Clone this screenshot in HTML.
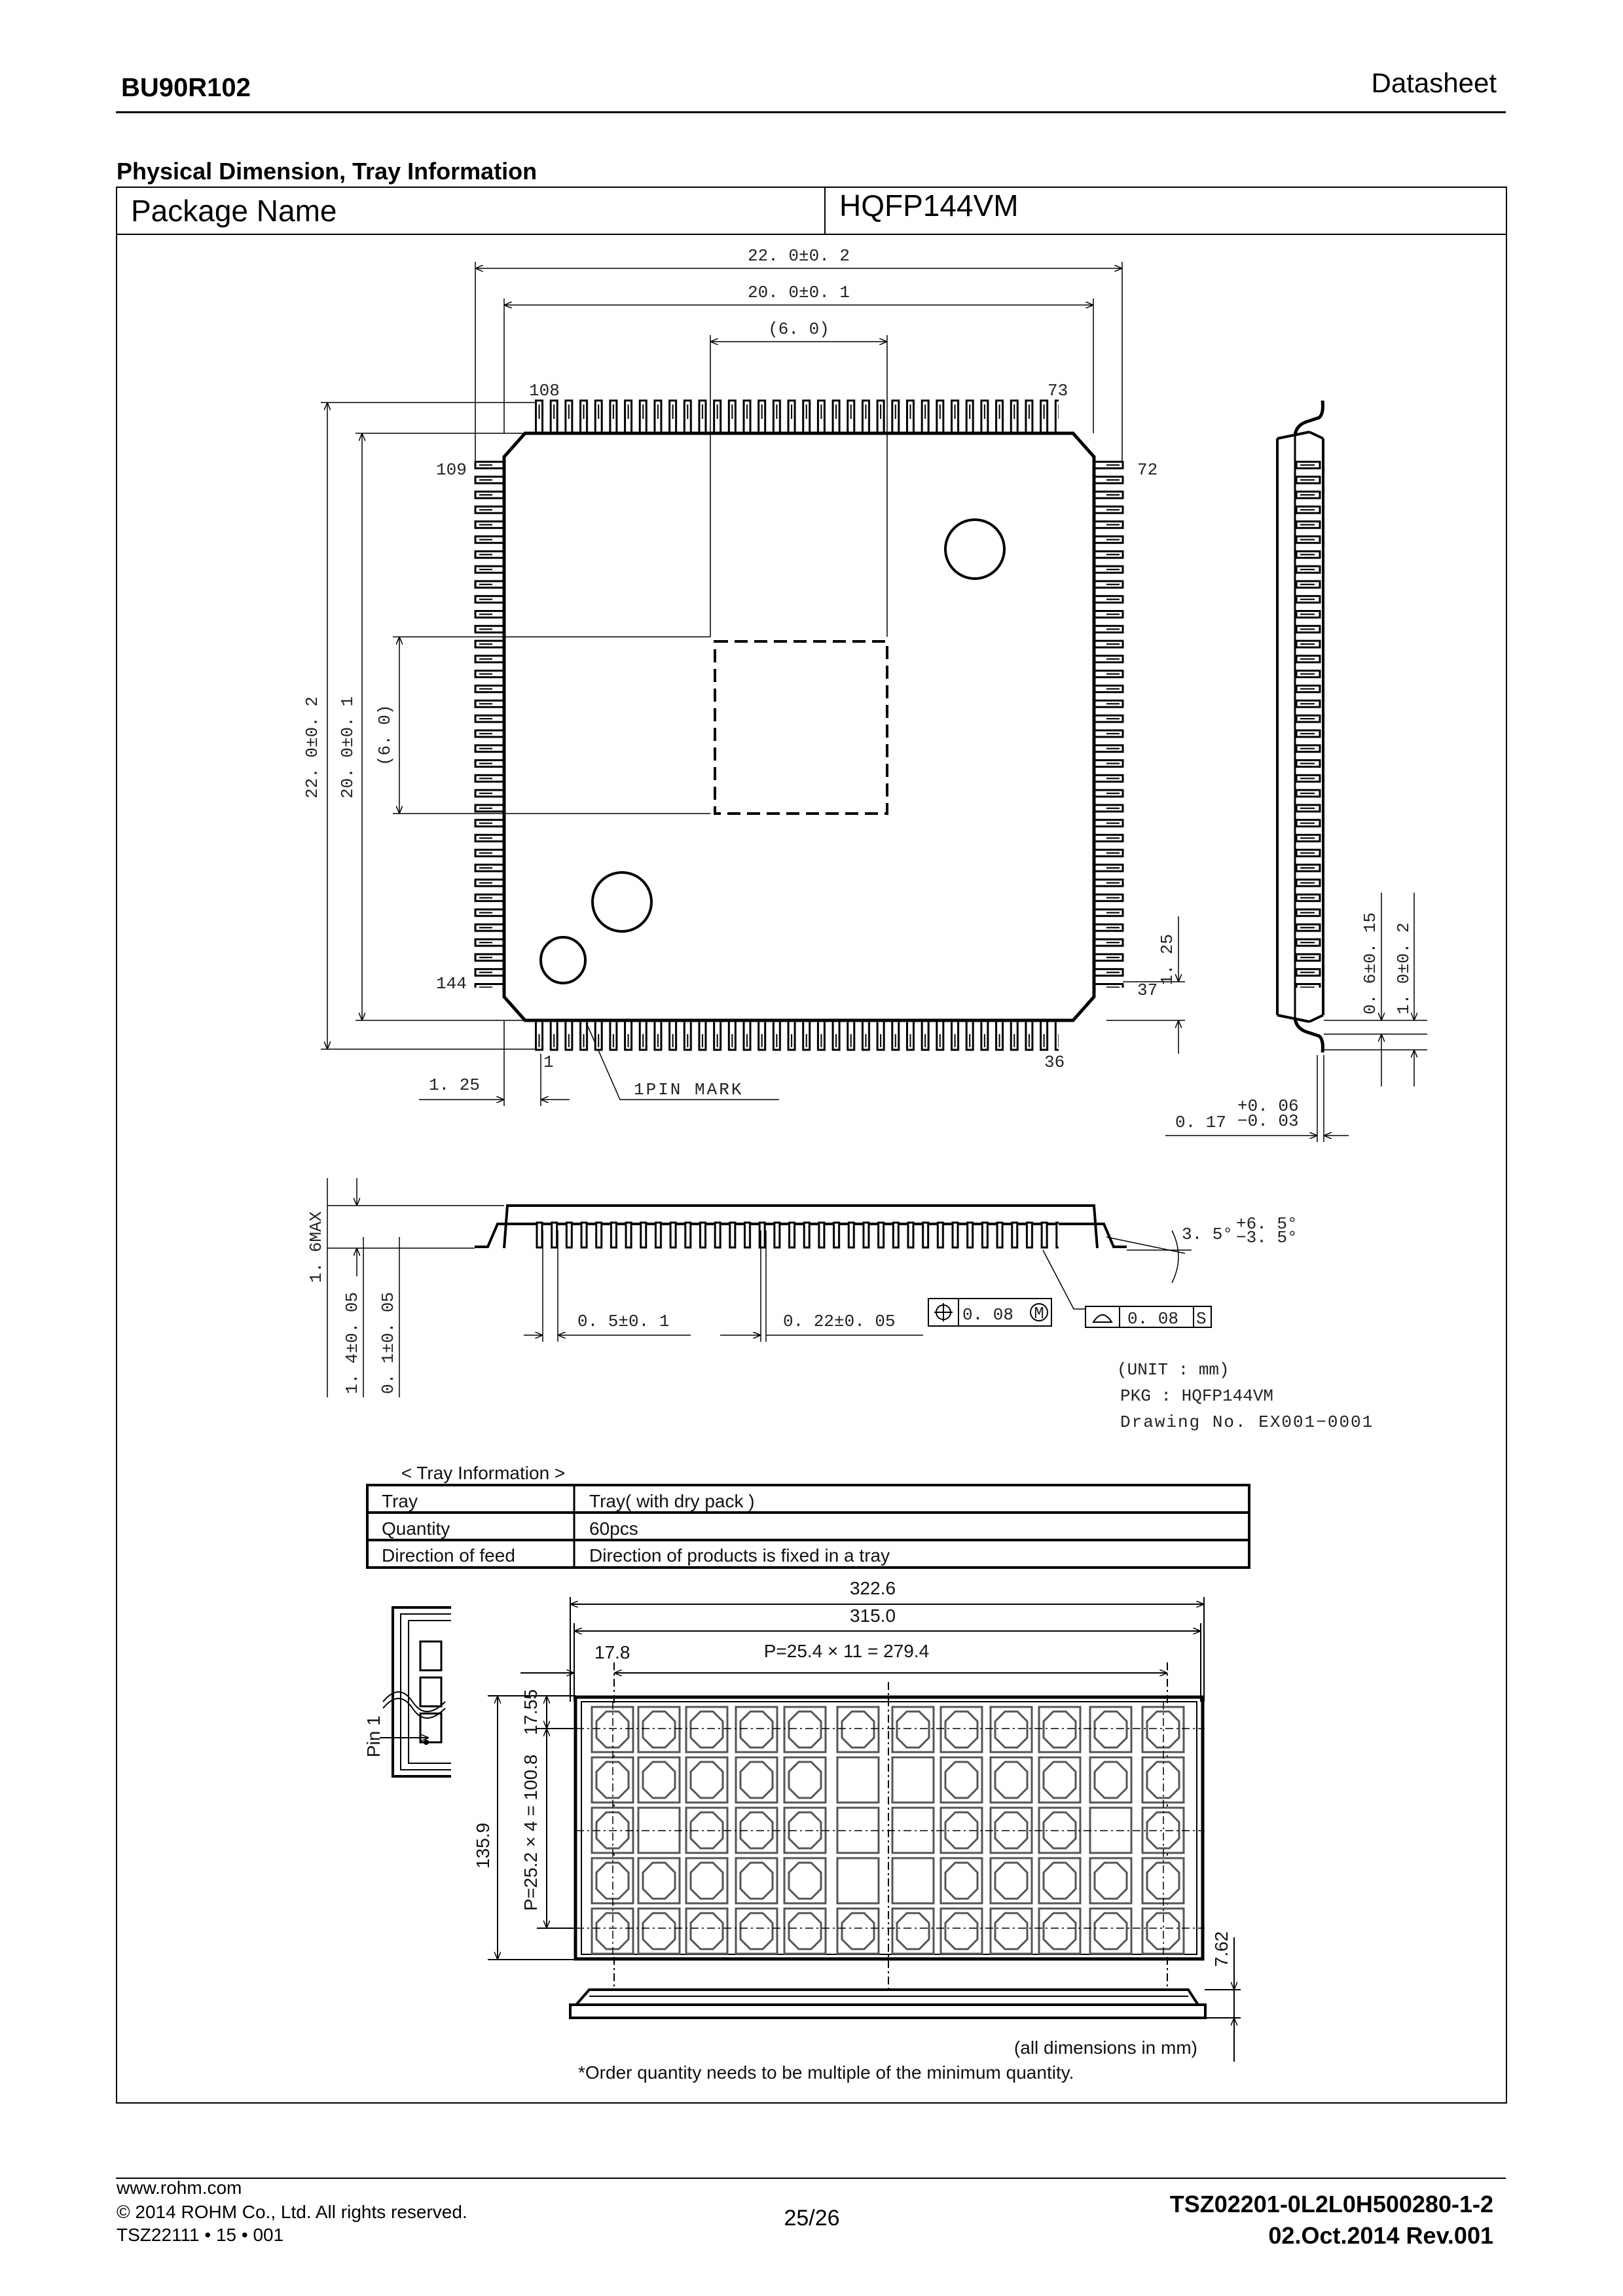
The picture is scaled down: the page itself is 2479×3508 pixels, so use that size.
<!DOCTYPE html>
<html><head><meta charset="utf-8"><style>
html,body{margin:0;padding:0;background:#fff}
svg{display:block}
.h{font-family:"Liberation Sans",sans-serif}
.m{font-family:"Liberation Mono","DejaVu Sans Mono",monospace;font-size:26px;fill:#222}
.t{font-family:"Liberation Sans",sans-serif;font-size:28px;fill:#111}
</style></head><body>
<svg width="2479" height="3508" viewBox="0 0 2479 3508" xmlns="http://www.w3.org/2000/svg">
<defs>
<pattern id="ptop" x="817" y="0" width="22.68" height="3508" patternUnits="userSpaceOnUse">
<rect x="1.5" y="612" width="10" height="50" fill="#fff" stroke="#000" stroke-width="3"/>
<line x1="6.5" y1="618" x2="6.5" y2="640" stroke="#000" stroke-width="2"/>
</pattern>
<pattern id="pbot" x="817" y="0" width="22.68" height="3508" patternUnits="userSpaceOnUse">
<rect x="1.5" y="1559" width="10" height="45" fill="#fff" stroke="#000" stroke-width="3"/>
<line x1="6.5" y1="1580" x2="6.5" y2="1600" stroke="#000" stroke-width="2"/>
</pattern>
<pattern id="pside" x="0" y="704" width="2479" height="22.8" patternUnits="userSpaceOnUse">
<rect x="726" y="1.5" width="44" height="10" fill="#fff" stroke="#000" stroke-width="3"/>
<line x1="732" y1="6.5" x2="752" y2="6.5" stroke="#000" stroke-width="2"/>
<rect x="1671" y="1.5" width="44" height="10" fill="#fff" stroke="#000" stroke-width="3"/>
<line x1="1690" y1="6.5" x2="1710" y2="6.5" stroke="#000" stroke-width="2"/>
<rect x="1980" y="1.5" width="36" height="10" fill="#fff" stroke="#000" stroke-width="3"/>
<line x1="1986" y1="6.5" x2="2008" y2="6.5" stroke="#000" stroke-width="2"/>
</pattern>
<pattern id="pprof" x="817" y="0" width="22.68" height="3508" patternUnits="userSpaceOnUse">
<rect x="3" y="1868" width="8" height="38" fill="#fff" stroke="#000" stroke-width="3"/>
</pattern>
<g id="cell"><rect x="0" y="0" width="63" height="69" fill="#fff" stroke="#555" stroke-width="3"/></g>
<g id="oct"><rect x="0" y="0" width="63" height="69" fill="#fff" stroke="#555" stroke-width="3"/>
<polygon points="22,7 41,7 56,22 56,47 41,62 22,62 7,47 7,22" fill="none" stroke="#555" stroke-width="3"/></g>
<marker id="ar" markerWidth="12" markerHeight="10" refX="12" refY="5" orient="auto-start-reverse" markerUnits="userSpaceOnUse"><path d="M0,0 L12,5 L0,10" fill="none" stroke="#000" stroke-width="1.5"/></marker>
</defs>

<!-- header -->
<text x="185" y="147" class="h" font-size="40" font-weight="bold">BU90R102</text>
<text x="2286" y="141" class="h" font-size="42" text-anchor="end">Datasheet</text>
<rect x="177" y="170" width="2123" height="3" fill="#000"/>
<text x="178" y="274" class="h" font-size="36" font-weight="bold">Physical Dimension, Tray Information</text>

<!-- frame -->
<rect x="178" y="286" width="2123" height="2927" fill="none" stroke="#000" stroke-width="2"/>
<line x1="178" y1="358" x2="2301" y2="358" stroke="#000" stroke-width="2"/>
<line x1="1260" y1="286" x2="1260" y2="358" stroke="#000" stroke-width="2"/>
<text x="200" y="338" class="h" font-size="46">Package Name</text>
<text x="1282" y="330" class="h" font-size="46">HQFP144VM</text>

<!-- top view dims -->
<g stroke="#000" stroke-width="1.5" fill="none">
<line x1="726" y1="400" x2="726" y2="704"/><line x1="1714" y1="400" x2="1714" y2="704"/>
<line x1="726" y1="410" x2="1714" y2="410" marker-start="url(#ar)" marker-end="url(#ar)"/>
<line x1="770" y1="456" x2="770" y2="662"/><line x1="1670" y1="456" x2="1670" y2="662"/>
<line x1="770" y1="466" x2="1670" y2="466" marker-start="url(#ar)" marker-end="url(#ar)"/>
<line x1="1085" y1="512" x2="1085" y2="973"/><line x1="1355" y1="512" x2="1355" y2="973"/>
<line x1="1085" y1="522" x2="1355" y2="522" marker-start="url(#ar)" marker-end="url(#ar)"/>
<line x1="490" y1="615" x2="822" y2="615"/><line x1="490" y1="1603" x2="822" y2="1603"/>
<line x1="500" y1="615" x2="500" y2="1603" marker-start="url(#ar)" marker-end="url(#ar)"/>
<line x1="543" y1="662" x2="800" y2="662"/><line x1="543" y1="1559" x2="800" y2="1559"/>
<line x1="553" y1="662" x2="553" y2="1559" marker-start="url(#ar)" marker-end="url(#ar)"/>
<line x1="600" y1="973" x2="1085" y2="973"/><line x1="600" y1="1243" x2="1085" y2="1243"/>
<line x1="610" y1="973" x2="610" y2="1243" marker-start="url(#ar)" marker-end="url(#ar)"/>
<line x1="770" y1="1560" x2="770" y2="1690"/><line x1="826" y1="1610" x2="826" y2="1690"/>
<line x1="640" y1="1680" x2="770" y2="1680" marker-end="url(#ar)"/>
<line x1="870" y1="1680" x2="826" y2="1680" marker-end="url(#ar)"/>
<polyline points="868,1500 947,1680 1190,1680"/>
<line x1="1715" y1="1500" x2="1810" y2="1500"/><line x1="1690" y1="1559" x2="1810" y2="1559"/>
<line x1="1800" y1="1400" x2="1800" y2="1500" marker-end="url(#ar)"/>
<line x1="1800" y1="1610" x2="1800" y2="1559" marker-end="url(#ar)"/>
</g>
<text x="1220" y="398" class="m" text-anchor="middle">22. 0±0. 2</text>
<text x="1220" y="454" class="m" text-anchor="middle">20. 0±0. 1</text>
<text x="1220" y="510" class="m" text-anchor="middle">(6. 0)</text>
<text class="m" transform="translate(484,1220) rotate(-90)">22. 0±0. 2</text>
<text class="m" transform="translate(538,1220) rotate(-90)">20. 0±0. 1</text>
<text class="m" transform="translate(595,1170) rotate(-90)">(6. 0)</text>
<text class="m" transform="translate(1790,1505) rotate(-90)">1. 25</text>
<text x="808" y="604" class="m" font-size="20">108</text>
<text x="1600" y="604" class="m" font-size="20">73</text>
<text x="666" y="725" class="m" font-size="20">109</text>
<text x="1737" y="725" class="m" font-size="20">72</text>
<text x="666" y="1510" class="m" font-size="20">144</text>
<text x="1737" y="1520" class="m" font-size="20">37</text>
<text x="830" y="1630" class="m" font-size="20">1</text>
<text x="1595" y="1630" class="m" font-size="20">36</text>
<text x="655" y="1665" class="m">1. 25</text>
<text x="968" y="1672" class="m" font-family="Liberation Serif" font-size="30" letter-spacing="3">1PIN MARK</text>

<!-- pins and body -->
<rect x="817" y="600" width="800" height="70" fill="url(#ptop)"/>
<rect x="817" y="1550" width="800" height="60" fill="url(#pbot)"/>
<rect x="720" y="704" width="1310" height="805" fill="url(#pside)"/>
<polygon points="802,662 1639,662 1671,698 1671,1523 1639,1559 802,1559 770,1523 770,698" fill="#fff" stroke="#000" stroke-width="5"/>
<line x1="1085" y1="662" x2="1085" y2="973" stroke="#000" stroke-width="1.5"/>
<line x1="1355" y1="662" x2="1355" y2="973" stroke="#000" stroke-width="1.5"/>
<line x1="770" y1="973" x2="1085" y2="973" stroke="#000" stroke-width="1.5"/>
<line x1="770" y1="1243" x2="1085" y2="1243" stroke="#000" stroke-width="1.5"/>
<rect x="1092" y="980" width="263" height="263" fill="none" stroke="#000" stroke-width="4" stroke-dasharray="20,10"/>
<ellipse cx="1489" cy="839" rx="45" ry="45" fill="none" stroke="#000" stroke-width="4"/>
<ellipse cx="950" cy="1378" rx="45" ry="45" fill="none" stroke="#000" stroke-width="4"/>
<ellipse cx="860" cy="1467" rx="34" ry="35" fill="none" stroke="#000" stroke-width="4"/>

<!-- side view -->
<g fill="none" stroke="#000" stroke-width="4">
<line x1="1951" y1="670" x2="1951" y2="1551"/>
<line x1="1951" y1="670" x2="2000" y2="660"/>
<line x1="2000" y1="660" x2="2021" y2="670"/>
<line x1="1951" y1="1551" x2="2000" y2="1561"/>
<line x1="2000" y1="1561" x2="2021" y2="1551"/>
<line x1="2021" y1="670" x2="2021" y2="1551"/>
<line x1="1978" y1="665" x2="1978" y2="1556" stroke-width="3"/>
<path d="M1978,665 Q1980,648 2000,643 L2015,638 Q2022,632 2020,612" stroke-width="5"/>
<path d="M1978,1556 Q1980,1573 2000,1578 L2015,1583 Q2022,1589 2020,1608" stroke-width="5"/>
</g>
<g stroke="#000" stroke-width="1.5" fill="none">
<line x1="2022" y1="1559" x2="2180" y2="1559"/><line x1="2022" y1="1580" x2="2180" y2="1580"/>
<line x1="2022" y1="1604" x2="2180" y2="1604"/>
<line x1="2110" y1="1364" x2="2110" y2="1559" marker-end="url(#ar)"/>
<line x1="2110" y1="1660" x2="2110" y2="1580" marker-end="url(#ar)"/>
<line x1="2160" y1="1364" x2="2160" y2="1559" marker-end="url(#ar)"/>
<line x1="2160" y1="1660" x2="2160" y2="1604" marker-end="url(#ar)"/>
<line x1="2012" y1="1612" x2="2012" y2="1745"/><line x1="2022" y1="1612" x2="2022" y2="1745"/>
<line x1="1780" y1="1735" x2="2012" y2="1735" marker-end="url(#ar)"/>
<line x1="2060" y1="1735" x2="2022" y2="1735" marker-end="url(#ar)"/>
</g>
<text class="m" transform="translate(2100,1550) rotate(-90)">0. 6±0. 15</text>
<text class="m" transform="translate(2151,1550) rotate(-90)">1. 0±0. 2</text>
<text x="1795" y="1722" class="m">0. 17</text>
<text x="1890" y="1697" class="m" font-size="20">+0. 06</text>
<text x="1890" y="1720" class="m" font-size="20">−0. 03</text>

<!-- profile view -->
<g fill="none" stroke="#000" stroke-width="4">
<polyline points="770,1907 775,1842 1671,1842 1676,1907"/>
<line x1="770" y1="1870" x2="1676" y2="1870"/>
<polyline points="775,1870 760,1870 745,1905 725,1905"/>
<polyline points="1671,1870 1686,1870 1701,1905 1721,1905"/>
</g>
<rect x="817" y="1860" width="800" height="50" fill="url(#pprof)"/>
<g stroke="#000" stroke-width="1.5" fill="none">
<line x1="500" y1="1842" x2="770" y2="1842"/><line x1="500" y1="1907" x2="725" y2="1907"/>
<line x1="1721" y1="1910" x2="1820" y2="1910"/><line x1="1690" y1="1890" x2="1810" y2="1915"/>
<line x1="545" y1="1800" x2="545" y2="1842" marker-end="url(#ar)"/>
<line x1="545" y1="1950" x2="545" y2="1907" marker-end="url(#ar)"/>
<line x1="555" y1="1890" x2="555" y2="2135"/><line x1="610" y1="1890" x2="610" y2="2135"/>
<line x1="500" y1="1800" x2="500" y2="2135"/>
<line x1="829" y1="1880" x2="829" y2="2050"/><line x1="852" y1="1880" x2="852" y2="2050"/>
<line x1="800" y1="2040" x2="829" y2="2040" marker-end="url(#ar)"/>
<line x1="1055" y1="2040" x2="852" y2="2040" marker-end="url(#ar)"/>
<line x1="1162" y1="1880" x2="1162" y2="2050"/><line x1="1170" y1="1880" x2="1170" y2="2050"/>
<line x1="1100" y1="2040" x2="1162" y2="2040" marker-end="url(#ar)"/>
<line x1="1410" y1="2040" x2="1170" y2="2040"/>
<polyline points="1593,1910 1640,2000 1658,2000"/>
<path d="M1790,1880 Q1810,1920 1790,1960"/>
</g>
<text class="m" transform="translate(490,1960) rotate(-90)" font-family="Liberation Serif">1. 6MAX</text>
<text class="m" transform="translate(545,2130) rotate(-90)">1. 4±0. 05</text>
<text class="m" transform="translate(600,2130) rotate(-90)">0. 1±0. 05</text>
<text x="882" y="2026" class="m">0. 5±0. 1</text>
<text x="1196" y="2026" class="m">0. 22±0. 05</text>
<rect x="1418" y="1984" width="188" height="42" fill="none" stroke="#000" stroke-width="2"/>
<line x1="1464" y1="1984" x2="1464" y2="2026" stroke="#000" stroke-width="2"/>
<circle cx="1441" cy="2005" r="11" fill="none" stroke="#000" stroke-width="2"/>
<line x1="1427" y1="2005" x2="1455" y2="2005" stroke="#000" stroke-width="2"/><line x1="1441" y1="1991" x2="1441" y2="2019" stroke="#000" stroke-width="2"/>
<text x="1470" y="2016" class="m">0. 08</text>
<circle cx="1587" cy="2005" r="13" fill="none" stroke="#000" stroke-width="2"/>
<text x="1587" y="2014" class="m" font-size="20" text-anchor="middle">M</text>
<rect x="1658" y="1996" width="192" height="32" fill="none" stroke="#000" stroke-width="2"/>
<line x1="1710" y1="1996" x2="1710" y2="2028" stroke="#000" stroke-width="2"/>
<line x1="1823" y1="1996" x2="1823" y2="2028" stroke="#000" stroke-width="2"/>
<path d="M1670,2020 Q1684,1998 1698,2020 Z" fill="none" stroke="#000" stroke-width="2"/>
<text x="1722" y="2022" class="m">0. 08</text>
<text x="1827" y="2022" class="m" font-size="22">S</text>
<text x="1805" y="1893" class="m">3. 5°</text>
<text x="1888" y="1877" class="m" font-size="20">+6. 5°</text>
<text x="1888" y="1898" class="m" font-size="20">−3. 5°</text>
<text x="1706" y="2100" class="m" font-family="Liberation Serif" font-size="27">(UNIT : mm)</text>
<text x="1711" y="2140" class="m" font-family="Liberation Serif" font-size="27">PKG : HQFP144VM</text>
<text x="1711" y="2180" class="m" font-size="26" letter-spacing="2">Drawing No. EX001−0001</text>

<!-- tray info -->
<text x="738" y="2260" class="t" text-anchor="middle">&lt; Tray Information &gt;</text>
<g stroke="#000" fill="none">
<rect x="561" y="2269" width="1347" height="126" stroke-width="4"/>
<line x1="561" y1="2311" x2="1908" y2="2311" stroke-width="4"/>
<line x1="561" y1="2353" x2="1908" y2="2353" stroke-width="4"/>
<line x1="877" y1="2269" x2="877" y2="2395" stroke-width="3"/>
</g>
<text x="583" y="2303" class="t">Tray</text>
<text x="900" y="2303" class="t">Tray( with dry pack )</text>
<text x="583" y="2345" class="t">Quantity</text>
<text x="900" y="2345" class="t">60pcs</text>
<text x="583" y="2386" class="t">Direction of feed</text>
<text x="900" y="2386" class="t">Direction of products is fixed in a tray</text>

<!-- tray dims -->
<g stroke="#000" stroke-width="2" fill="none">
<line x1="871" y1="2440" x2="871" y2="2600"/><line x1="1839" y1="2440" x2="1839" y2="2600"/>
<line x1="877" y1="2480" x2="877" y2="2600"/><line x1="1834" y1="2480" x2="1834" y2="2600"/>
<line x1="871" y1="2451" x2="1839" y2="2451" marker-start="url(#ar)" marker-end="url(#ar)"/>
<line x1="877" y1="2492" x2="1834" y2="2492" marker-start="url(#ar)" marker-end="url(#ar)"/>
<line x1="938" y1="2540" x2="938" y2="3040" stroke-dasharray="12,5,3,5"/>
<line x1="1783" y1="2540" x2="1783" y2="3040" stroke-dasharray="12,5,3,5"/>
<line x1="1357" y1="2570" x2="1357" y2="3040" stroke-dasharray="12,5,3,5"/>
<line x1="938" y1="2556" x2="1783" y2="2556" marker-start="url(#ar)" marker-end="url(#ar)"/>
<line x1="795" y1="2556" x2="877" y2="2556" marker-end="url(#ar)"/>
<line x1="745" y1="2591" x2="880" y2="2591"/><line x1="745" y1="2994" x2="880" y2="2994"/>
<line x1="760" y1="2591" x2="760" y2="2994" marker-start="url(#ar)" marker-end="url(#ar)"/>
<line x1="820" y1="2641" x2="880" y2="2641"/><line x1="820" y1="2946" x2="880" y2="2946"/>
<line x1="835" y1="2591" x2="835" y2="2641" marker-start="url(#ar)" marker-end="url(#ar)"/>
<line x1="835" y1="2641" x2="835" y2="2946" marker-start="url(#ar)" marker-end="url(#ar)"/>
<rect x="879" y="2593" width="958" height="400" stroke-width="5"/>
<rect x="888" y="2600" width="940" height="386" stroke-width="2"/>
<rect x="871" y="3063" width="970" height="20" stroke-width="4"/>
<polyline points="880,3063 900,3040 1815,3040 1830,3063" stroke-width="4"/>
<line x1="900" y1="3050" x2="1815" y2="3050" stroke-width="2"/>
<line x1="1885" y1="2960" x2="1885" y2="3150"/>
<line x1="1840" y1="3040" x2="1895" y2="3040"/><line x1="1840" y1="3083" x2="1895" y2="3083"/>
<line x1="1885" y1="2995" x2="1885" y2="3040" marker-end="url(#ar)"/>
<line x1="1885" y1="3120" x2="1885" y2="3083" marker-end="url(#ar)"/>
<polyline points="689,2456 600,2456 600,2714 689,2714" stroke-width="4"/>
<polyline points="689,2466 612,2466 612,2704 689,2704" stroke-width="2"/>
<polyline points="689,2476 624,2476 624,2694 689,2694" stroke-width="2"/>
<rect x="642" y="2508" width="32" height="44" stroke-width="3"/>
<rect x="642" y="2563" width="32" height="44" stroke-width="3"/>
<rect x="642" y="2618" width="32" height="44" stroke-width="3"/>
<path d="M585,2600 Q610,2570 630,2600 T680,2600" stroke-width="2"/>
<path d="M585,2610 Q610,2580 630,2610 T680,2610" stroke-width="2"/>
<line x1="580" y1="2655" x2="655" y2="2655" marker-end="url(#ar)"/>
</g>
<circle cx="651" cy="2662" r="4" fill="#000"/>
<text class="t" font-size="20" transform="translate(580,2685) rotate(-90)">Pin 1</text>
<text x="1333" y="2436" class="t" font-size="20" text-anchor="middle">322.6</text>
<text x="1333" y="2478" class="t" font-size="20" text-anchor="middle">315.0</text>
<text x="908" y="2534" class="t" font-size="20">17.8</text>
<text x="1293" y="2532" class="t" font-size="20" text-anchor="middle">P=25.4 × 11 = 279.4</text>
<text class="t" font-size="20" transform="translate(747,2820) rotate(-90)" text-anchor="middle">135.9</text>
<text class="t" font-size="20" transform="translate(820,2800) rotate(-90)" text-anchor="middle">P=25.2 × 4 = 100.8</text>
<text class="t" font-size="20" transform="translate(820,2616) rotate(-90)" text-anchor="middle">17.55</text>
<text class="t" font-size="20" transform="translate(1875,2978) rotate(-90)" text-anchor="middle">7.62</text>

<g>
<use href="#oct" x="904" y="2608"/><use href="#oct" x="975" y="2608"/><use href="#oct" x="1048" y="2608"/><use href="#oct" x="1124" y="2608"/><use href="#oct" x="1198" y="2608"/><use href="#oct" x="1279" y="2608"/><use href="#oct" x="1363" y="2608"/><use href="#oct" x="1437" y="2608"/><use href="#oct" x="1513" y="2608"/><use href="#oct" x="1587" y="2608"/><use href="#oct" x="1665" y="2608"/><use href="#oct" x="1745" y="2608"/>
<use href="#oct" x="904" y="2685"/><use href="#oct" x="975" y="2685"/><use href="#oct" x="1048" y="2685"/><use href="#oct" x="1124" y="2685"/><use href="#oct" x="1198" y="2685"/><use href="#cell" x="1279" y="2685"/><use href="#cell" x="1363" y="2685"/><use href="#oct" x="1437" y="2685"/><use href="#oct" x="1513" y="2685"/><use href="#oct" x="1587" y="2685"/><use href="#oct" x="1665" y="2685"/><use href="#oct" x="1745" y="2685"/>
<use href="#oct" x="904" y="2762"/><use href="#cell" x="975" y="2762"/><use href="#oct" x="1048" y="2762"/><use href="#oct" x="1124" y="2762"/><use href="#oct" x="1198" y="2762"/><use href="#cell" x="1279" y="2762"/><use href="#cell" x="1363" y="2762"/><use href="#oct" x="1437" y="2762"/><use href="#oct" x="1513" y="2762"/><use href="#oct" x="1587" y="2762"/><use href="#cell" x="1665" y="2762"/><use href="#oct" x="1745" y="2762"/>
<use href="#oct" x="904" y="2839"/><use href="#oct" x="975" y="2839"/><use href="#oct" x="1048" y="2839"/><use href="#oct" x="1124" y="2839"/><use href="#oct" x="1198" y="2839"/><use href="#cell" x="1279" y="2839"/><use href="#cell" x="1363" y="2839"/><use href="#oct" x="1437" y="2839"/><use href="#oct" x="1513" y="2839"/><use href="#oct" x="1587" y="2839"/><use href="#oct" x="1665" y="2839"/><use href="#oct" x="1745" y="2839"/>
<use href="#oct" x="904" y="2916"/><use href="#oct" x="975" y="2916"/><use href="#oct" x="1048" y="2916"/><use href="#oct" x="1124" y="2916"/><use href="#oct" x="1198" y="2916"/><use href="#oct" x="1279" y="2916"/><use href="#oct" x="1363" y="2916"/><use href="#oct" x="1437" y="2916"/><use href="#oct" x="1513" y="2916"/><use href="#oct" x="1587" y="2916"/><use href="#oct" x="1665" y="2916"/><use href="#oct" x="1745" y="2916"/>
</g>
<g stroke="#000" stroke-width="1.5" stroke-dasharray="12,5,3,5" fill="none">
<line x1="936" y1="2600" x2="936" y2="2990"/><line x1="1777" y1="2600" x2="1777" y2="2990"/>
<line x1="880" y1="2641" x2="1840" y2="2641"/><line x1="880" y1="2797" x2="1840" y2="2797"/><line x1="880" y1="2946" x2="1840" y2="2946"/>
</g>

<text x="1829" y="3138" class="t" font-size="24" text-anchor="end">(all dimensions in mm)</text>
<text x="883" y="3176" class="t" font-size="31">*Order quantity needs to be multiple of the minimum quantity.</text>

<!-- footer -->
<rect x="177" y="3327" width="2123" height="2" fill="#000"/>
<text x="178" y="3352" class="h" font-size="28">www.rohm.com</text>
<text x="178" y="3389" class="h" font-size="28">© 2014 ROHM Co., Ltd. All rights reserved.</text>
<text x="178" y="3424" class="h" font-size="28">TSZ22111 • 15 • 001</text>
<text x="1240" y="3400" class="h" font-size="34" text-anchor="middle">25/26</text>
<text x="2281" y="3380" class="h" font-size="36" font-weight="bold" text-anchor="end">TSZ02201-0L2L0H500280-1-2</text>
<text x="2281" y="3428" class="h" font-size="36" font-weight="bold" text-anchor="end">02.Oct.2014  Rev.001</text>
</svg>
</body></html>
